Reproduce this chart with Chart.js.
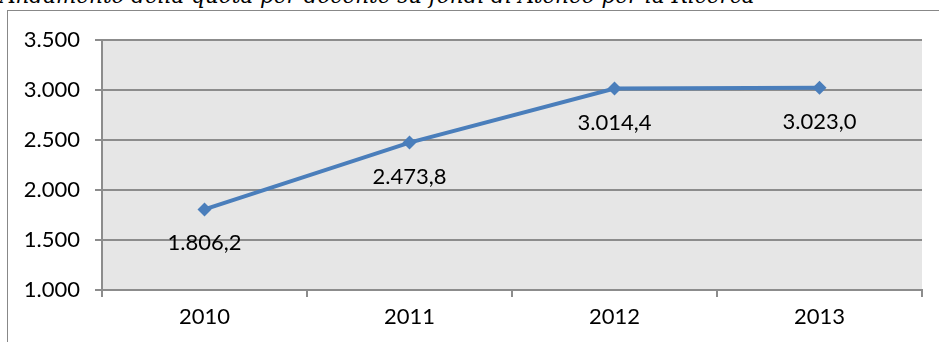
<!DOCTYPE html>
<html>
<head>
<meta charset="utf-8">
<script src="https://cdn.jsdelivr.net/npm/chart.js@4.4.1/dist/chart.umd.min.js"></script>
<style>
  html, body { margin: 0; padding: 0; background: #fff; overflow: hidden; }
  #wrap { position: relative; width: 939px; height: 342px; }
  #frame {
    position: absolute; left: 7px; top: 10px; width: 960px; height: 360px;
    border-left: 1.5px solid #888; border-top: 1.5px solid #888;
  }
  #title {
    position: absolute; left: 0; top: -15px; white-space: nowrap;
    font-family: "DejaVu Serif", serif; font-style: italic; font-size: 21.5px; line-height: 22px;
    color: #000;
  }
  canvas { position: absolute; left: 0; top: 0; }
</style>
</head>
<body>
<div id="wrap">
  <div id="frame"></div>
  <div id="title">Andamento della quota per docente su fondi di Ateneo per la Ricerca</div>
  <canvas id="chart" width="939" height="342"></canvas>
</div>
<script>
const years = ['2010', '2011', '2012', '2013'];
const quota = [1806.2, 2473.8, 3014.4, 3023.0];
const yTicks = [1000, 1500, 2000, 2500, 3000, 3500];

const FONT = 'Lato';
const FONT_SIZE = 22;
const GRID = '#8c8c8c';
const LINE_BLUE = '#4a7ebb';

// Italian number format: 3.014,4
function fmtIt(v, decimals) {
  const parts = v.toFixed(decimals).split('.');
  const intPart = parts[0].replace(/\B(?=(\d{3})+(?!\d))/g, '.');
  return parts.length > 1 ? intPart + ',' + parts[1] : intPart;
}

const plotBackground = {
  id: 'plotBackground',
  beforeDraw(chart) {
    const { ctx, chartArea } = chart;
    ctx.save();
    ctx.fillStyle = '#e6e6e6';
    ctx.fillRect(chartArea.left, chartArea.top, chartArea.right - chartArea.left, chartArea.bottom - chartArea.top);
    ctx.restore();
  }
};

const valueLabels = {
  id: 'valueLabels',
  afterDatasetsDraw(chart) {
    const { ctx } = chart;
    const meta = chart.getDatasetMeta(0);
    ctx.save();
    ctx.font = FONT_SIZE + 'px ' + FONT;
    ctx.fillStyle = '#000';
    ctx.textAlign = 'center';
    ctx.textBaseline = 'middle';
    meta.data.forEach((pt, i) => {
      ctx.fillText(fmtIt(quota[i], 1), pt.x, pt.y + 34);
    });
    ctx.restore();
  }
};

new Chart(document.getElementById('chart').getContext('2d'), {
  type: 'line',
  data: {
    labels: years,
    datasets: [{
      data: quota,
      borderColor: LINE_BLUE,
      backgroundColor: LINE_BLUE,
      borderWidth: 4,
      pointStyle: 'rectRot',
      pointRadius: 7,
      pointBorderWidth: 0,
      tension: 0
    }]
  },
  options: {
    responsive: false,
    animation: false,
    layout: { padding: { top: 40, right: 17, bottom: 0, left: 0 } },
    plugins: {
      legend: { display: false },
      tooltip: { enabled: false }
    },
    scales: {
      x: {
        offset: true,
        afterFit: s => { s.height = 52; },
        grid: { offset: true, drawOnChartArea: false, drawTicks: true, tickLength: 7, color: GRID, lineWidth: 2 },
        border: { color: GRID, width: 2 },
        ticks: { color: '#000', font: { family: FONT, size: FONT_SIZE }, padding: 7, maxRotation: 0 }
      },
      y: {
        min: 1000,
        max: 3500,
        afterFit: s => { s.width = 102; },
        afterBuildTicks: s => { s.ticks = yTicks.map(v => ({ value: v })); },
        grid: { color: GRID, lineWidth: 2, tickLength: 7 },
        border: { color: GRID, width: 2 },
        ticks: { color: '#000', font: { family: FONT, size: FONT_SIZE }, padding: 15, callback: v => fmtIt(v, 0) }
      }
    }
  },
  plugins: [plotBackground, valueLabels]
});
</script>
</body>
</html>
